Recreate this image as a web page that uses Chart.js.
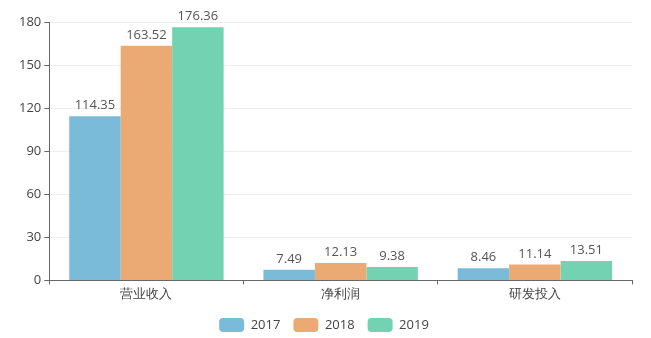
<!DOCTYPE html>
<html>
<head>
<meta charset="utf-8">
<script src="https://cdn.jsdelivr.net/npm/chart.js@4"></script>
<style>
  body { margin: 0; background: #fff; }
  #wrap { width: 651px; height: 338px; }
</style>
</head>
<body>
<div id="wrap"><canvas id="myChart"></canvas></div>
<script>
const categories = ['营业收入', '净利润', '研发投入'];
const years = ['2017', '2018', '2019'];
const v2017 = [114.35, 7.49, 8.46];
const v2018 = [163.52, 12.13, 11.14];
const v2019 = [176.36, 9.38, 13.51];
const yTicks = [0, 30, 60, 90, 120, 150, 180];
const colors = ['#7bbbda', '#eba973', '#73d2b1'];

// labels on top of bars
const valueLabels = {
  id: 'valueLabels',
  afterDatasetsDraw(chart) {
    const ctx = chart.ctx;
    ctx.save();
    ctx.font = '13px "Open Sans", sans-serif';
    ctx.fillStyle = '#555';
    ctx.textAlign = 'center';
    ctx.textBaseline = 'bottom';
    chart.data.datasets.forEach((ds, i) => {
      chart.getDatasetMeta(i).data.forEach((bar, j) => {
        ctx.fillText(ds.data[j].toFixed(2), bar.x, bar.y - 4);
      });
    });
    ctx.restore();
  }
};

const ctx = document.getElementById('myChart');
const myChart = new Chart(ctx, {
  type: 'bar',
  data: {
    labels: categories,
    datasets: [
      { label: years[0], data: v2017, backgroundColor: colors[0] },
      { label: years[1], data: v2018, backgroundColor: colors[1] },
      { label: years[2], data: v2019, backgroundColor: colors[2] }
    ]
  },
  options: {
    responsive: true,
    maintainAspectRatio: false,
    animation: false,
    layout: { padding: { top: 22, right: 19, left: 16, bottom: -4 } },
    datasets: { bar: { categoryPercentage: 0.795, barPercentage: 1.0, borderWidth: 0 } },
    plugins: {
      legend: {
        position: 'bottom',
        labels: {
          font: { size: 13, family: '"Open Sans", sans-serif' },
          color: '#444',
          boxWidth: 25,
          boxHeight: 14,
          useBorderRadius: true,
          borderRadius: 4,
          padding: 13
        }
      },
      tooltip: { enabled: false }
    },
    scales: {
      x: {
        afterFit: axis => { axis.height += 1; },
        grid: { display: true, drawOnChartArea: false, offset: true, tickLength: 4, color: '#666' },
        border: { color: '#666' },
        ticks: { color: '#444', font: { size: 13, family: '"Open Sans", sans-serif' }, padding: 2 }
      },
      y: {
        min: 0,
        max: 180,
        afterBuildTicks: axis => { axis.ticks = yTicks.map(v => ({ value: v })); },
        grid: { color: '#eeeeee', tickColor: '#666', tickLength: 5 },
        border: { color: '#666' },
        ticks: { color: '#444', font: { size: 13, family: '"Open Sans", sans-serif' }, padding: 3 }
      }
    }
  },
  plugins: [valueLabels]
});
</script>
</body>
</html>
